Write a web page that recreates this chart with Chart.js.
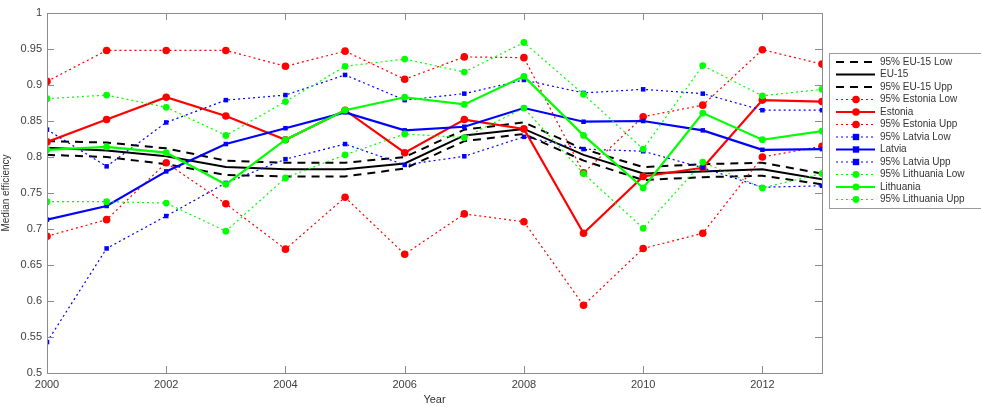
<!DOCTYPE html>
<html>
<head>
<meta charset="utf-8">
<script src="https://cdn.jsdelivr.net/npm/chart.js@4/dist/chart.umd.min.js"></script>
<style>
  html, body { margin: 0; padding: 0; background: #fff; }
  #wrap { width: 981px; height: 407px; position: relative; }
</style>
</head>
<body>
<div id="wrap"><canvas id="chart"></canvas></div>
<script>
// ── Data ──────────────────────────────────────────────────────────────────────
const YEARS = [2000, 2001, 2002, 2003, 2004, 2005, 2006, 2007, 2008, 2009, 2010, 2011, 2012, 2013];

const EU_LOW = [0.803, 0.800, 0.790, 0.775, 0.773, 0.773, 0.784, 0.822, 0.832, 0.795, 0.768, 0.772, 0.774, 0.762];
const EU_MED = [0.813, 0.809, 0.801, 0.786, 0.783, 0.783, 0.791, 0.830, 0.839, 0.803, 0.777, 0.780, 0.783, 0.769];
const EU_UPP = [0.822, 0.820, 0.812, 0.795, 0.792, 0.792, 0.800, 0.838, 0.848, 0.811, 0.786, 0.790, 0.792, 0.777];

const EE_LOW = [0.690, 0.713, 0.792, 0.735, 0.672, 0.744, 0.665, 0.721, 0.710, 0.594, 0.673, 0.694, 0.800, 0.815];
const EE_MED = [0.821, 0.852, 0.883, 0.857, 0.824, 0.865, 0.806, 0.852, 0.839, 0.694, 0.773, 0.785, 0.879, 0.877];
const EE_UPP = [0.905, 0.948, 0.948, 0.948, 0.926, 0.947, 0.908, 0.939, 0.938, 0.778, 0.856, 0.872, 0.949, 0.929];

const LV_LOW = [0.543, 0.673, 0.718, 0.764, 0.797, 0.818, 0.789, 0.801, 0.828, 0.811, 0.808, 0.785, 0.758, 0.760];
const LV_MED = [0.713, 0.732, 0.780, 0.818, 0.840, 0.862, 0.837, 0.842, 0.868, 0.849, 0.850, 0.837, 0.810, 0.811];
const LV_UPP = [0.838, 0.787, 0.848, 0.879, 0.886, 0.914, 0.879, 0.888, 0.907, 0.889, 0.894, 0.888, 0.865, 0.865];

const LT_LOW = [0.738, 0.738, 0.736, 0.697, 0.771, 0.803, 0.832, 0.827, 0.868, 0.777, 0.701, 0.793, 0.757, 0.777];
const LT_MED = [0.810, 0.814, 0.806, 0.762, 0.824, 0.865, 0.883, 0.873, 0.912, 0.830, 0.757, 0.861, 0.824, 0.836];
const LT_UPP = [0.881, 0.886, 0.869, 0.830, 0.877, 0.926, 0.936, 0.918, 0.959, 0.887, 0.811, 0.927, 0.885, 0.894];

const Y_MIN = 0.5, Y_MAX = 1;

// ── Series styles ─────────────────────────────────────────────────────────────
const RED = '#ff0000', BLUE = '#0000ff', GREEN = '#00ff00', BLACK = '#000000';
const DASHED = [8, 6], DOTTED = [2, 3];

const SERIES = [
  { label: '95% EU-15 Low',     data: EU_LOW, color: BLACK, dash: DASHED, width: 2,   marker: false },
  { label: 'EU-15',             data: EU_MED, color: BLACK, dash: [],     width: 2,   marker: false },
  { label: '95% EU-15 Upp',     data: EU_UPP, color: BLACK, dash: DASHED, width: 2,   marker: false },
  { label: '95% Estonia Low',   data: EE_LOW, color: RED,   dash: DOTTED, width: 1.2, marker: 'circle', r: 3.8 },
  { label: 'Estonia',           data: EE_MED, color: RED,   dash: [],     width: 2.2, marker: 'circle', r: 3.8 },
  { label: '95% Estonia Upp',   data: EE_UPP, color: RED,   dash: DOTTED, width: 1.2, marker: 'circle', r: 3.8 },
  { label: '95% Latvia Low',    data: LV_LOW, color: BLUE,  dash: DOTTED, width: 1.2, marker: 'rect',   r: 3.2 },
  { label: 'Latvia',            data: LV_MED, color: BLUE,  dash: [],     width: 2.2, marker: 'rect',   r: 3.2 },
  { label: '95% Latvia Upp',    data: LV_UPP, color: BLUE,  dash: DOTTED, width: 1.2, marker: 'rect',   r: 3.2 },
  { label: '95% Lithuania Low', data: LT_LOW, color: GREEN, dash: DOTTED, width: 1.2, marker: 'circle', r: 3.4 },
  { label: 'Lithuania',         data: LT_MED, color: GREEN, dash: [],     width: 2.2, marker: 'circle', r: 3.4 },
  { label: '95% Lithuania Upp', data: LT_UPP, color: GREEN, dash: DOTTED, width: 1.2, marker: 'circle', r: 3.4 },
];

const FONT = '"Liberation Sans", Arial, sans-serif';
const AXIS_GREY = '#8c8c8c';

// ── Frame + inward ticks (MATLAB box) ─────────────────────────────────────────
const framePlugin = {
  id: 'frame',
  afterDatasetsDraw(chart) {
    const { ctx, chartArea: a, scales: { x, y } } = chart;
    ctx.save();
    ctx.strokeStyle = AXIS_GREY;
    ctx.lineWidth = 1;
    ctx.strokeRect(a.left + 0.5, a.top + 0.5, a.right - a.left, a.bottom - a.top);
    ctx.beginPath();
    for (let yr = YEARS[0]; yr <= YEARS[YEARS.length - 1]; yr += 2) {
      const px = Math.round(x.getPixelForValue(yr)) + 0.5;
      ctx.moveTo(px, a.bottom); ctx.lineTo(px, a.bottom - 7);
      ctx.moveTo(px, a.top);    ctx.lineTo(px, a.top + 7);
    }
    for (let v = Y_MIN; v <= Y_MAX + 1e-9; v += 0.05) {
      const py = Math.round(y.getPixelForValue(v)) + 0.5;
      ctx.moveTo(a.left, py);  ctx.lineTo(a.left + 7, py);
      ctx.moveTo(a.right, py); ctx.lineTo(a.right - 7, py);
    }
    ctx.stroke();
    ctx.restore();
  }
};

// ── MATLAB-style legend box ───────────────────────────────────────────────────
const legendPlugin = {
  id: 'matLegend',
  afterDraw(chart) {
    const { ctx } = chart;
    const bx = 829.5, by = 53.5, bw = 170, rowH = 12.5, top = 62;
    ctx.save();
    ctx.fillStyle = '#fff';
    ctx.fillRect(bx, by, bw, rowH * SERIES.length + 5);
    ctx.strokeStyle = '#9a9a9a';
    ctx.lineWidth = 1;
    ctx.strokeRect(bx, by, bw, rowH * SERIES.length + 5);
    ctx.font = '10px ' + FONT;
    ctx.textBaseline = 'middle';
    SERIES.forEach((s, i) => {
      const yy = top + i * rowH;
      ctx.strokeStyle = s.color;
      ctx.lineWidth = s.width;
      ctx.setLineDash(s.dash);
      ctx.beginPath();
      ctx.moveTo(836, yy); ctx.lineTo(875, yy);
      ctx.stroke();
      ctx.setLineDash([]);
      if (s.marker) {
        ctx.fillStyle = s.color;
        ctx.beginPath();
        if (s.marker === 'rect') ctx.rect(856 - s.r, yy - s.r, s.r * 2, s.r * 2);
        else ctx.arc(856, yy, s.r, 0, Math.PI * 2);
        ctx.fill();
      }
      ctx.fillStyle = '#333';
      ctx.fillText(s.label, 880, yy);
    });
    ctx.restore();
  }
};

// ── Chart ─────────────────────────────────────────────────────────────────────
const datasets = SERIES.map((s, i) => ({
  label: s.label,
  data: YEARS.map((yr, j) => ({ x: yr, y: s.data[j] })),
  borderColor: s.color,
  backgroundColor: s.color,
  borderWidth: s.width,
  borderDash: s.dash,
  pointStyle: s.marker || 'circle',
  pointRadius: s.marker ? s.r : 0,
  pointBorderWidth: 0,
  pointHoverRadius: 0,
  tension: 0,
  fill: false,
  order: SERIES.length - i,
}));

new Chart(document.getElementById('chart'), {
  type: 'line',
  data: { datasets },
  plugins: [framePlugin, legendPlugin],
  options: {
    responsive: true, maintainAspectRatio: false,
    animation: false,
    layout: { padding: { top: 13, right: 159, left: 0, bottom: 0 } },
    plugins: { legend: { display: false }, tooltip: { enabled: false } },
    scales: {
      x: {
        type: 'linear', min: YEARS[0], max: YEARS[YEARS.length - 1],
        grid: { display: false, drawTicks: false },
        border: { display: false },
        ticks: {
          stepSize: 1, autoSkip: false, maxRotation: 0, padding: 5,
          color: '#404040', font: { family: FONT, size: 11 },
          callback: v => (v % 2 === 0 && v < 2013) ? String(v) : ''
        },
        title: { display: true, text: 'Year', color: '#333', font: { family: FONT, size: 11 }, padding: { top: 0, bottom: 0 } },
        afterFit: s => { s.height = 34; }
      },
      y: {
        min: Y_MIN, max: Y_MAX,
        grid: { display: false, drawTicks: false },
        border: { display: false },
        ticks: {
          stepSize: 0.05, padding: 5,
          color: '#404040', font: { family: FONT, size: 11 },
          callback: v => String(parseFloat(v.toFixed(2)))
        },
        title: { display: true, text: 'Median efficiency', color: '#333', font: { family: FONT, size: 10 }, padding: { top: 0, bottom: 2 } },
        afterFit: s => { s.width = 47; }
      }
    }
  }
});
</script>
</body>
</html>
